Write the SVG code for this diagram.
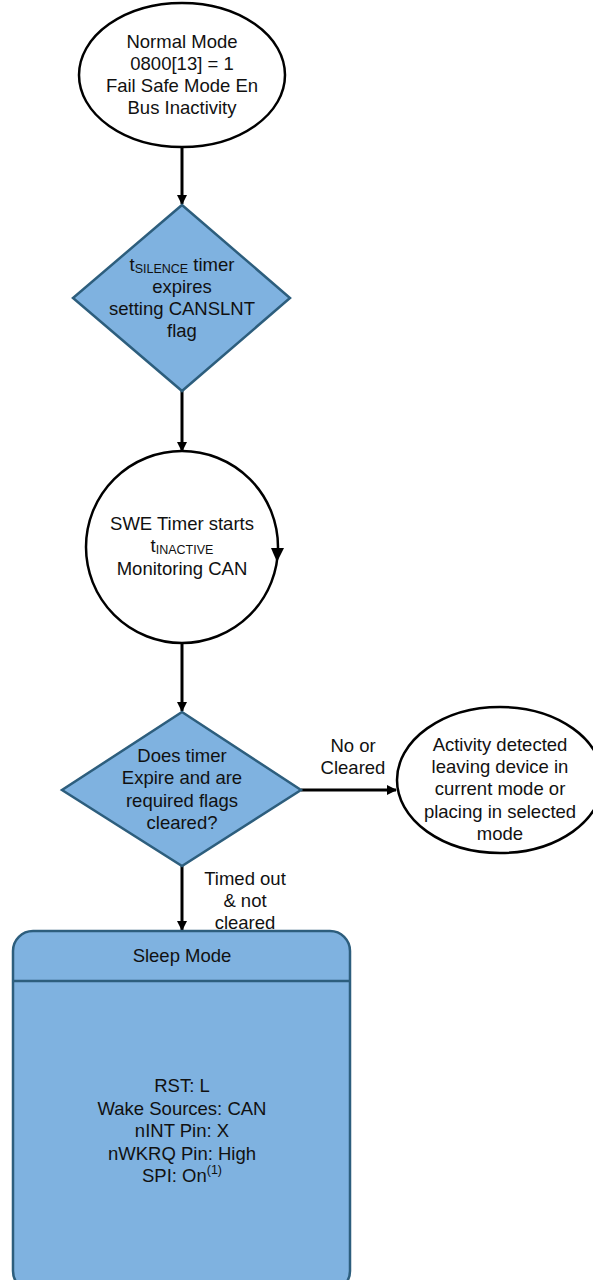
<svg xmlns="http://www.w3.org/2000/svg" width="593" height="1280" viewBox="0 0 593 1280">
  <defs>
    <marker id="arrow" markerWidth="10" markerHeight="10" refX="9" refY="5" orient="auto" markerUnits="userSpaceOnUse">
      <path d="M0,0 L10,5 L0,10 Z" fill="#000"/>
    </marker>
    <style>
      .t { font-family: "Liberation Sans", Arial, sans-serif; font-size: 18.5px; fill: #111; text-anchor: middle; }
      .sub { font-size: 12.5px; }
      .state { fill: #fff; stroke: #000; stroke-width: 2.5; }
      .blue { fill: #7fb2e0; stroke: #2d5e7d; stroke-width: 2.5; }
      .edge { fill: none; stroke: #000; stroke-width: 3; marker-end: url(#arrow); }
    </style>
  </defs>

  <rect width="593" height="1280" fill="#fff"/>

  <!-- connectors -->
  <g id="connectors">
    <line class="edge" x1="182" y1="147" x2="182" y2="204"/>
    <line class="edge" x1="182" y1="391" x2="182" y2="451"/>
    <line class="edge" x1="182" y1="643" x2="182" y2="711"/>
    <line class="edge" x1="301" y1="790" x2="396" y2="790"/>
    <line class="edge" x1="182" y1="866" x2="182" y2="930"/>
    <text class="t" x="353" y="752">No or</text>
    <text class="t" x="353" y="774">Cleared</text>
    <text class="t" x="245" y="885">Timed out</text>
    <text class="t" x="245" y="907">&amp; not</text>
    <text class="t" x="245" y="929">cleared</text>
  </g>

  <!-- start state -->
  <g id="normal-mode">
    <ellipse class="state" cx="182" cy="75" rx="103" ry="72"/>
    <text class="t" x="182" y="48">Normal Mode</text>
    <text class="t" x="182" y="70">0800[13] = 1</text>
    <text class="t" x="182" y="92">Fail Safe Mode En</text>
    <text class="t" x="182" y="114">Bus Inactivity</text>
  </g>

  <!-- silence timer decision -->
  <g id="silence-timer">
    <polygon class="blue" points="182,205 290,298 182,391 73,298"/>
    <text class="t" x="182" y="271">t<tspan class="sub" dy="2">SILENCE</tspan><tspan dy="-2"> timer</tspan></text>
    <text class="t" x="182" y="293">expires</text>
    <text class="t" x="182" y="315">setting CANSLNT</text>
    <text class="t" x="182" y="337">flag</text>
  </g>

  <!-- SWE timer state with self loop marker -->
  <g id="swe-timer">
    <circle class="state" cx="182" cy="547" r="96"/>
    <path d="M271,548 L284,548 L277,562 Z" fill="#000"/>
    <text class="t" x="182" y="530">SWE Timer starts</text>
    <text class="t" x="182" y="552">t<tspan class="sub" dy="2">INACTIVE</tspan></text>
    <text class="t" x="182" y="575">Monitoring CAN</text>
  </g>

  <!-- expiry decision -->
  <g id="expire-decision">
    <polygon class="blue" points="182,712 301,790 182,866 62,790"/>
    <text class="t" x="182" y="762">Does timer</text>
    <text class="t" x="182" y="784">Expire and are</text>
    <text class="t" x="182" y="807">required flags</text>
    <text class="t" x="182" y="829">cleared?</text>
  </g>

  <!-- activity detected -->
  <g id="activity-detected">
    <ellipse class="state" cx="500" cy="780" rx="103" ry="73"/>
    <text class="t" x="500" y="751">Activity detected</text>
    <text class="t" x="500" y="773">leaving device in</text>
    <text class="t" x="500" y="795">current mode or</text>
    <text class="t" x="500" y="818">placing in selected</text>
    <text class="t" x="500" y="840">mode</text>
  </g>

  <!-- sleep mode -->
  <g id="sleep-mode">
    <rect class="blue" x="13" y="931" width="337" height="360" rx="20" ry="20"/>
    <line x1="13" y1="981" x2="350" y2="981" stroke="#2d5e7d" stroke-width="2.5"/>
    <text class="t" x="182" y="962">Sleep Mode</text>
    <text class="t" x="182" y="1092">RST: L</text>
    <text class="t" x="182" y="1115">Wake Sources: CAN</text>
    <text class="t" x="182" y="1137">nINT Pin: X</text>
    <text class="t" x="182" y="1160">nWKRQ Pin: High</text>
    <text class="t" x="182" y="1182">SPI: On<tspan class="sub" dy="-8">(1)</tspan></text>
  </g>
</svg>
